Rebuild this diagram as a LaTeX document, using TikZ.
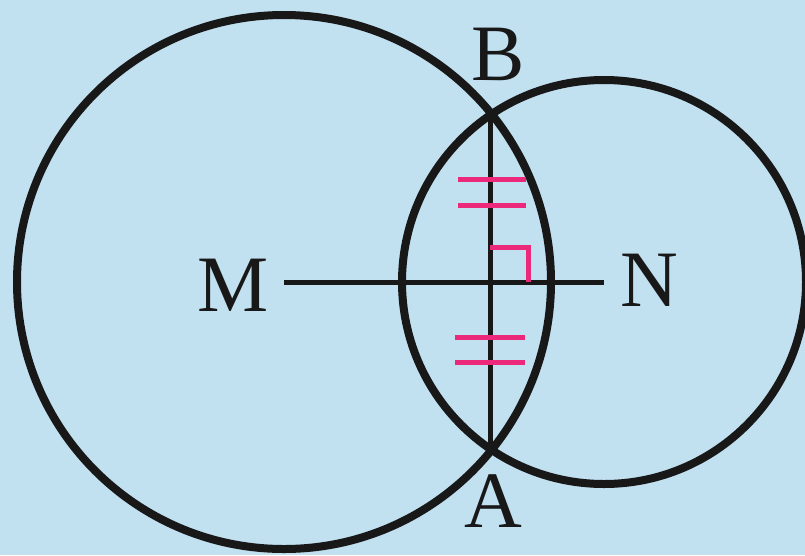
\documentclass[tikz,border=0pt]{standalone}
\usepackage{fontspec}
\setmainfont{Liberation Serif}
\usetikzlibrary{positioning}
\definecolor{skyback}{RGB}{193,224,240}
\definecolor{tickpink}{RGB}{236,40,122}
\definecolor{inkblack}{RGB}{24,24,24}
\begin{document}
\begin{tikzpicture}[x=1pt, y=-1pt, circ/.style={draw=inkblack, line width=8pt}, seg/.style={draw=inkblack, line width=5pt}, tickmark/.style={draw=tickpink, line width=5pt}, lbl/.style={font=\fontsize{80}{80}\selectfont, text=inkblack, inner sep=0pt}]
\fill[skyback] (0,0) rectangle (805,555);
\useasboundingbox (0,0) rectangle (805,555);
\coordinate (M) at (284,282);
\coordinate (N) at (604,282);
\coordinate (B) at (490,114);
\coordinate (A) at (490,450);
\draw[circ] (M) circle[radius=267];
\draw[circ] (N) circle[radius=202];
\draw[seg] (M) -- (N);
\draw[seg] (B) -- (A);
% equal halves and right angle
\draw[tickmark] (458,179) -- (526,179);
\draw[tickmark] (458,205) -- (526,205);
\draw[tickmark] (455,337) -- (525,337);
\draw[tickmark] (455,362) -- (525,362);
\draw[tickmark] (490,247) -- (528,247) -- (528,282);
\node[lbl] (lblB) at (498,54) {B};
\node[lbl] (lblA) at (493,501) {A};
\node[lbl] (lblM) at (233,285) {M};
\node[lbl] (lblN) at (649,280) {N};
\end{tikzpicture}
\end{document}
